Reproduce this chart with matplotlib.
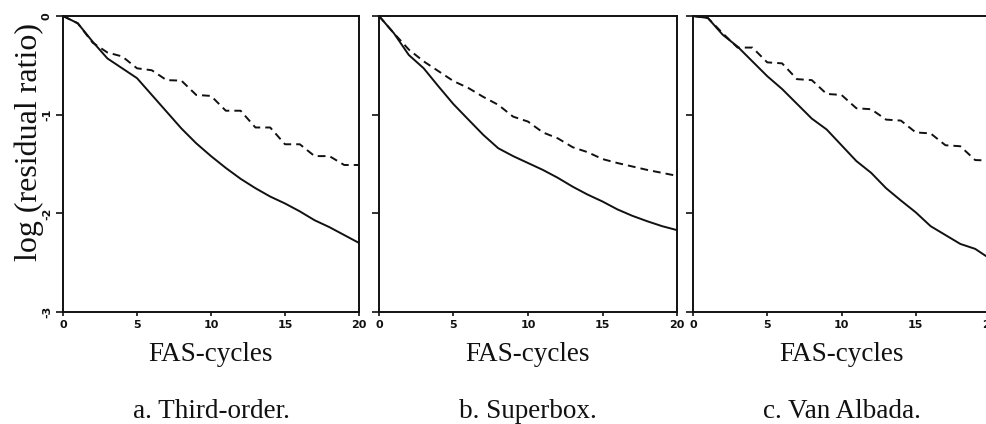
import matplotlib
matplotlib.use("Agg")
import matplotlib.pyplot as plt

cycles = list(range(21))

# Third-order scheme
third_solid = [0.0, -0.074, -0.26, -0.43, -0.53, -0.63, -0.80, -0.97, -1.14, -1.29, -1.42,
               -1.54, -1.65, -1.745, -1.83, -1.90, -1.98, -2.07, -2.14, -2.22, -2.30]
third_dashed = [0.0, -0.074, -0.27, -0.37, -0.41, -0.53, -0.55, -0.65, -0.655, -0.80, -0.81,
                -0.96, -0.96, -1.13, -1.13, -1.30, -1.30, -1.42, -1.42, -1.51, -1.51]

# Superbox scheme
superbox_solid = [0.0, -0.175, -0.395, -0.53, -0.715, -0.894, -1.05, -1.205, -1.34, -1.42, -1.49,
                  -1.56, -1.64, -1.73, -1.81, -1.88, -1.96, -2.025, -2.08, -2.13, -2.17]
superbox_dashed = [0.0, -0.175, -0.34, -0.46, -0.56, -0.66, -0.73, -0.82, -0.90, -1.02, -1.07,
                   -1.18, -1.24, -1.33, -1.38, -1.45, -1.49, -1.525, -1.56, -1.59, -1.62]

# Van Albada scheme
albada_solid = [0.0, -0.02, -0.19, -0.31, -0.46, -0.61, -0.74, -0.89, -1.04, -1.15, -1.31,
                -1.47, -1.59, -1.745, -1.87, -1.99, -2.13, -2.22, -2.31, -2.36, -2.46]
albada_dashed = [0.0, -0.02, -0.175, -0.32, -0.32, -0.47, -0.48, -0.64, -0.65, -0.79, -0.80,
                 -0.935, -0.945, -1.05, -1.06, -1.18, -1.19, -1.31, -1.32, -1.46, -1.465]

captions = ["a. Third-order.", "b. Superbox.", "c. Van Albada."]
x_ticks = [0, 5, 10, 15, 20]
y_ticks = [0, -1, -2, -3]
y_tick_labels = ["0", "-1", "-2", "-3"]

panels = [
    (third_solid, third_dashed),
    (superbox_solid, superbox_dashed),
    (albada_solid, albada_dashed),
]

W, H = 987, 424
fig = plt.figure(figsize=(W / 100, H / 100), dpi=100)

ink = "#111111"
serif = ["Liberation Serif", "DejaVu Serif"]
tickfont = ["Liberation Sans Narrow", "DejaVu Sans"]

lefts = [63, 379, 693]
widths = [296, 298, 297]
top_px, bot_px = 16, 312

for i, ((solid, dashed), cap) in enumerate(zip(panels, captions)):
    ax = fig.add_axes([lefts[i] / W, 1 - bot_px / H, widths[i] / W, (bot_px - top_px) / H])
    ax.plot(cycles, solid, color=ink, lw=1.4, solid_joinstyle="round")
    ax.plot(cycles, dashed, color=ink, lw=1.4, dashes=(4, 2.6))
    ax.set_xlim(0, 20)
    ax.set_ylim(-3, 0)
    for sp in ax.spines.values():
        sp.set_linewidth(1.4)
        sp.set_color(ink)
    ax.set_xticks(x_ticks)
    ax.set_xticklabels([str(t) for t in x_ticks], fontfamily=tickfont,
                       fontweight="bold", fontsize=8)
    ax.set_yticks(y_ticks)
    if i == 0:
        ax.set_yticklabels(y_tick_labels, rotation=90, va="center",
                           fontfamily=tickfont, fontweight="bold", fontsize=8)
    else:
        ax.set_yticklabels([])
    ax.tick_params(axis="x", direction="out", length=3, width=1.2, pad=3, colors=ink)
    ax.tick_params(axis="y", direction="out", length=5, width=1.2, pad=3, colors=ink)

    cx = (lefts[i] + widths[i] / 2) / W
    fig.text(cx, 1 - 361 / H, "FAS-cycles", ha="center", va="baseline",
             fontfamily=serif, fontsize=19.5, color=ink)
    fig.text(cx, 1 - 418 / H, cap, ha="center", va="baseline",
             fontfamily=serif, fontsize=19.5, color=ink)

fig.text(29 / W, 1 - 142 / H, "log (residual ratio)", rotation=90, ha="center",
         va="center", fontfamily=serif, fontsize=23, color=ink)

fig.savefig("out.png", dpi=100)
